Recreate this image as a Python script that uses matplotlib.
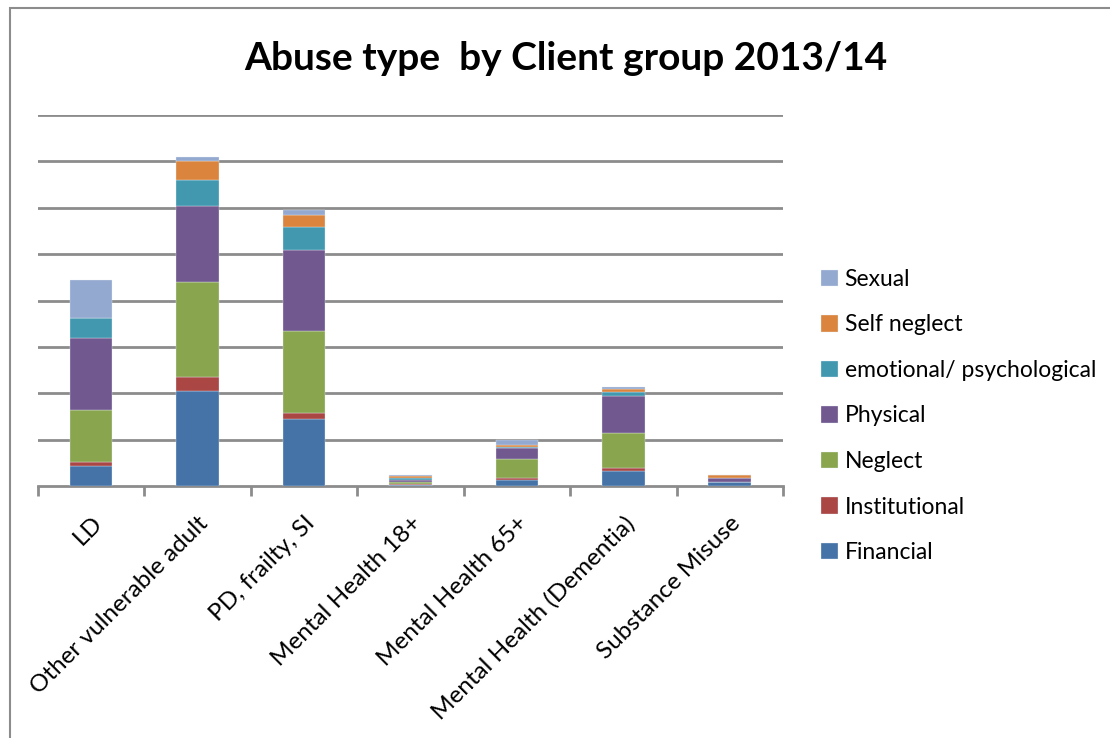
import matplotlib.pyplot as plt
import matplotlib.patches as mpatches
import numpy as np

plt.rcParams['font.family'] = ['Lato', 'DejaVu Sans']

grupos = ["LD", "Other vulnerable adult", "PD, frailty, SI", "Mental Health 18+",
          "Mental Health 65+", "Mental Health (Dementia)", "Substance Misuse"]

# valores (unidades arbitrarias, cada linea de rejilla = 20)
financial = [8.7, 40.8, 28.7, 0.4, 2.6, 6.5, 1.7]
institutional = [1.7, 6.0, 2.9, 0.4, 0.9, 1.3, 0.2]
neglect = [22.3, 41.1, 35.3, 0.9, 8.2, 15.1, 0.0]
physical = [31.0, 32.9, 35.0, 0.9, 4.9, 15.7, 1.7]
emotional = [8.7, 11.2, 9.9, 0.7, 0.3, 2.0, 0.0]
self_neglect = [0.0, 8.0, 5.1, 0.9, 0.8, 1.1, 1.1]
sexual = [16.3, 2.0, 2.1, 0.6, 2.0, 1.1, 0.0]

series = [
    ("Financial", financial, "#4572A7"),
    ("Institutional", institutional, "#AA4643"),
    ("Neglect", neglect, "#89A54E"),
    ("Physical", physical, "#71588F"),
    ("emotional/ psychological", emotional, "#4198AF"),
    ("Self neglect", self_neglect, "#DB843D"),
    ("Sexual", sexual, "#93A9CF"),
]

fig = plt.figure(figsize=(11.1, 7.38), dpi=100)
ax = fig.add_axes([38 / 1110, 1 - 486 / 738, (783 - 38) / 1110, (486 - 115) / 738])

x = np.arange(len(grupos))
bottom = np.zeros(len(grupos))
handles = []
for nombre, vals, color in series:
    vals = np.array(vals)
    b = ax.bar(x, vals, width=0.4, bottom=bottom, color=color,
               edgecolor="#e8eef5", linewidth=0.25, zorder=3, label=nombre)
    handles.append(b)
    bottom += vals

ax.set_xlim(-0.5, len(grupos) - 0.5)
ax.set_ylim(0, 160)
ax.set_yticks(np.arange(20, 161, 20))
ax.yaxis.grid(True, color="#8c8c8c", linewidth=2, zorder=0)
ax.tick_params(axis="y", left=False, labelleft=False)

for s in ["top", "right", "left"]:
    ax.spines[s].set_visible(False)
ax.spines["bottom"].set_color("#8c8c8c")
ax.spines["bottom"].set_linewidth(2)

ax.set_xticks(np.arange(-0.5, len(grupos), 1), minor=False)
ax.set_xticklabels([])
ax.tick_params(axis="x", which="major", direction="out", length=7, width=2, color="#8c8c8c")
ax.set_xticks(x, minor=True)
ax.set_xticklabels(grupos, minor=True, rotation=45, ha="right", rotation_mode="anchor",
                   fontsize=17.5)
ax.tick_params(axis="x", which="minor", length=0, pad=19)

fig.text(566 / 1110, 1 - 58 / 738, "Abuse type  by Client group 2013/14",
         ha="center", va="center", fontsize=28, fontweight="bold")

leg = fig.legend(handles[::-1], [s[0] for s in series][::-1],
                 loc="center left", bbox_to_anchor=(800 / 1110, 1 - 416 / 738),
                 frameon=False, fontsize=16.5, handlelength=0.75, handleheight=0.75,
                 handletextpad=0.3, labelspacing=1.07)

fig.patches.append(mpatches.Rectangle((10 / 1110, -0.05), 1.1, 1 - 8 / 738 + 0.05,
                                      transform=fig.transFigure, fill=False,
                                      edgecolor="#8c8c8c", linewidth=1.5))

fig.savefig("out.png", dpi=100)
